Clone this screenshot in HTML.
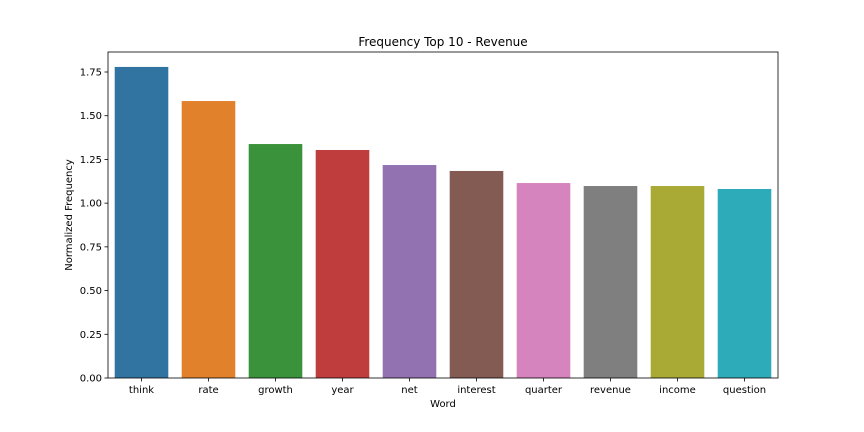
<!DOCTYPE html>
<html><head><meta charset="utf-8">
<style>
html,body{margin:0;padding:0;background:#fff;}
svg{display:block;font-family:"DejaVu Sans","Liberation Sans",sans-serif;}
</style></head>
<body>
<svg id="chart" width="864" height="432"></svg>
<script>
const categories = ["think","rate","growth","year","net","interest","quarter","revenue","income","question"];
const values = [1.779,1.584,1.338,1.304,1.218,1.184,1.115,1.098,1.098,1.081];
const yTicks = [0,0.25,0.5,0.75,1.0,1.25,1.5,1.75];
const yTickLabels = ["0.00","0.25","0.50","0.75","1.00","1.25","1.50","1.75"];
const colors = ["#3274a1","#e1812c","#3a923a","#c03d3e","#9372b2","#845b53","#d684bd","#7f7f7f","#a9aa35","#2eabb8"];

const NS="http://www.w3.org/2000/svg";
const svg=document.getElementById('chart');
const L=108,R=778,T=52,B=378;
const yScale=v=>B-v*(B-72)/1.75;
const band=(R-L)/categories.length;
const xCenter=i=>L+band*(i+0.5);
function mk(tag,attrs,parent){const e=document.createElementNS(NS,tag);for(const k in attrs)e.setAttribute(k,attrs[k]);(parent||svg).appendChild(e);return e;}

values.forEach((v,i)=>{
  const r=mk('rect',{x:xCenter(i)-band*0.4,y:yScale(v),width:band*0.8,height:B-yScale(v),fill:colors[i]});
  
  
});
const frame=mk('rect',{x:L,y:T,width:R-L,height:B-T,fill:'none',stroke:'#000','stroke-width':0.8});



yTicks.forEach((t,i)=>{
  const y=yScale(t);
  mk('line',{x1:L-3.5,x2:L,y1:y,y2:y,stroke:'#000','stroke-width':0.8});
  const tx=mk('text',{x:L-6,y:y+3.5,'text-anchor':'end','font-size':10,fill:'#000'});
  tx.textContent=yTickLabels[i];
  
  
});
categories.forEach((c,i)=>{
  const x=xCenter(i);
  mk('line',{x1:x,x2:x,y1:B,y2:B+3.5,stroke:'#000','stroke-width':0.8});
  const tx=mk('text',{x:x,y:B+15,'text-anchor':'middle','font-size':10,fill:'#000'});
  tx.textContent=c;
  
  
});
const xt=mk('text',{x:(L+R)/2,y:407,'text-anchor':'middle','font-size':10});
xt.textContent='Word';


const yt=mk('text',{x:0,y:0,'text-anchor':'middle','font-size':10,transform:`translate(72,${(T+B)/2}) rotate(-90)`});
yt.textContent='Normalized Frequency';


const tt=mk('text',{x:(L+R)/2,y:46,'text-anchor':'middle','font-size':12});
tt.textContent='Frequency Top 10 - Revenue';


</script>
</body></html>
